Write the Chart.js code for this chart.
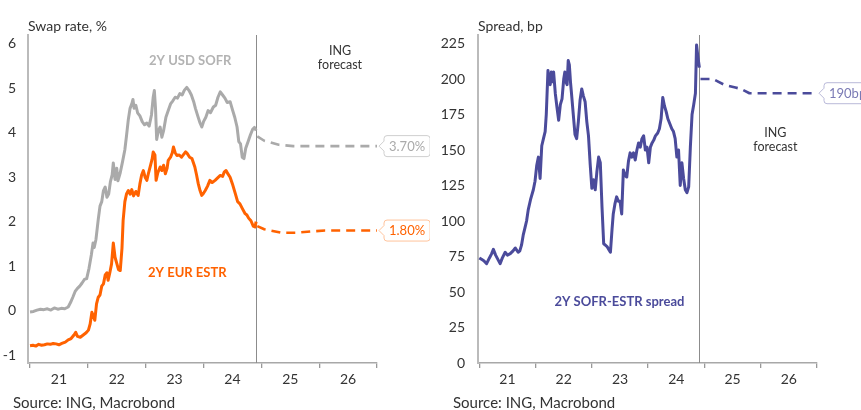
<!DOCTYPE html>
<html>
<head>
<meta charset="utf-8">
<script src="https://cdn.jsdelivr.net/npm/chart.js@4/dist/chart.umd.min.js"></script>
<style>
  html, body { margin: 0; padding: 0; background: #fff; }
  #wrap { position: relative; width: 861px; height: 410px; overflow: hidden; }
  #left { position: absolute; left: 0; top: 0; }
  #right { position: absolute; left: 430px; top: 0; }
</style>
</head>
<body>
<div id="wrap">
  <canvas id="left" width="430" height="410"></canvas>
  <canvas id="right" width="431" height="410"></canvas>
</div>
<script>
// ---- Data ----------------------------------------------------------------
const yearLabels = ['21', '22', '23', '24', '25', '26'];
const rateTicks = [-1, 0, 1, 2, 3, 4, 5, 6];
const spreadTicks = [0, 25, 50, 75, 100, 125, 150, 175, 200, 225];
const forecastStart = 2024.91;

// 2Y USD SOFR swap rate, %
const usdDates = [2021.00, 2021.06, 2021.12, 2021.18, 2021.24, 2021.30, 2021.36, 2021.42, 2021.48, 2021.54, 2021.60, 2021.66, 2021.70, 2021.74, 2021.78, 2021.82, 2021.86, 2021.90, 2021.94, 2021.98, 2022.02, 2022.06, 2022.09, 2022.11, 2022.14, 2022.18, 2022.21, 2022.24, 2022.27, 2022.30, 2022.33, 2022.36, 2022.39, 2022.42, 2022.44, 2022.47, 2022.50, 2022.52, 2022.56, 2022.60, 2022.64, 2022.67, 2022.70, 2022.73, 2022.76, 2022.78, 2022.80, 2022.83, 2022.86, 2022.90, 2022.94, 2022.98, 2023.02, 2023.06, 2023.10, 2023.13, 2023.15, 2023.17, 2023.19, 2023.22, 2023.25, 2023.28, 2023.31, 2023.35, 2023.39, 2023.43, 2023.47, 2023.51, 2023.55, 2023.59, 2023.63, 2023.67, 2023.71, 2023.75, 2023.79, 2023.83, 2023.86, 2023.90, 2023.94, 2023.97, 2024.00, 2024.04, 2024.08, 2024.12, 2024.17, 2024.21, 2024.25, 2024.29, 2024.33, 2024.37, 2024.41, 2024.46, 2024.50, 2024.54, 2024.58, 2024.61, 2024.64, 2024.67, 2024.70, 2024.73, 2024.77, 2024.81, 2024.85, 2024.88, 2024.91];
const usdSofr = [-0.03, -0.02, 0.01, 0.03, 0.02, 0.04, 0.01, 0.06, 0.03, 0.05, 0.04, 0.08, 0.18, 0.30, 0.43, 0.50, 0.55, 0.62, 0.70, 0.72, 0.95, 1.25, 1.52, 1.42, 1.60, 2.05, 2.35, 2.45, 2.70, 2.78, 2.55, 2.62, 2.90, 3.05, 3.32, 2.95, 3.20, 2.92, 3.10, 3.35, 3.62, 3.95, 4.30, 4.55, 4.65, 4.75, 4.55, 4.62, 4.45, 4.38, 4.25, 4.18, 4.22, 4.15, 4.40, 4.80, 4.95, 4.55, 3.85, 4.05, 4.13, 3.90, 4.05, 4.35, 4.50, 4.65, 4.72, 4.80, 4.78, 4.88, 4.85, 4.96, 5.02, 4.95, 4.85, 4.70, 4.55, 4.38, 4.22, 4.13, 4.25, 4.35, 4.50, 4.45, 4.58, 4.62, 4.80, 4.92, 4.85, 4.78, 4.68, 4.70, 4.52, 4.35, 4.13, 3.80, 3.75, 3.45, 3.42, 3.65, 3.80, 3.95, 4.08, 4.12, 4.05];
const usdFcDates = [2024.93, 2025.05, 2025.30, 2025.55, 2027.00];
const usdFc = [3.92, 3.82, 3.73, 3.70, 3.70];

// 2Y EUR ESTR swap rate, %
const eurDates = [2021.00, 2021.05, 2021.10, 2021.15, 2021.20, 2021.25, 2021.30, 2021.35, 2021.40, 2021.45, 2021.50, 2021.55, 2021.61, 2021.66, 2021.71, 2021.76, 2021.79, 2021.82, 2021.87, 2021.92, 2021.97, 2022.01, 2022.04, 2022.07, 2022.09, 2022.12, 2022.15, 2022.18, 2022.21, 2022.24, 2022.27, 2022.30, 2022.33, 2022.35, 2022.38, 2022.41, 2022.44, 2022.47, 2022.50, 2022.53, 2022.56, 2022.59, 2022.61, 2022.64, 2022.67, 2022.70, 2022.73, 2022.76, 2022.79, 2022.83, 2022.87, 2022.90, 2022.93, 2022.96, 2022.99, 2023.02, 2023.05, 2023.08, 2023.11, 2023.13, 2023.16, 2023.18, 2023.21, 2023.25, 2023.28, 2023.31, 2023.34, 2023.37, 2023.39, 2023.43, 2023.46, 2023.48, 2023.51, 2023.54, 2023.58, 2023.62, 2023.66, 2023.69, 2023.72, 2023.76, 2023.80, 2023.85, 2023.88, 2023.91, 2023.94, 2023.97, 2024.00, 2024.03, 2024.07, 2024.11, 2024.15, 2024.20, 2024.24, 2024.29, 2024.33, 2024.36, 2024.39, 2024.42, 2024.46, 2024.50, 2024.55, 2024.59, 2024.63, 2024.67, 2024.72, 2024.75, 2024.78, 2024.82, 2024.86, 2024.89, 2024.91];
const eurEstr = [-0.79, -0.78, -0.80, -0.76, -0.78, -0.77, -0.75, -0.76, -0.74, -0.75, -0.77, -0.74, -0.71, -0.66, -0.63, -0.55, -0.49, -0.58, -0.60, -0.55, -0.50, -0.44, -0.30, -0.04, -0.10, -0.22, 0.15, 0.30, 0.35, 0.55, 0.60, 0.80, 0.85, 0.68, 0.85, 1.05, 1.52, 1.20, 1.06, 0.92, 0.90, 1.40, 2.03, 2.45, 2.63, 2.70, 2.62, 2.72, 2.58, 2.68, 2.59, 2.85, 3.05, 3.15, 3.00, 2.93, 3.10, 3.25, 3.40, 3.57, 3.50, 2.93, 3.10, 3.23, 3.15, 3.27, 3.08, 3.20, 3.38, 3.45, 3.55, 3.68, 3.55, 3.49, 3.50, 3.45, 3.52, 3.57, 3.53, 3.45, 3.42, 3.23, 3.05, 2.85, 2.70, 2.59, 2.64, 2.70, 2.80, 2.93, 2.88, 2.93, 2.98, 3.04, 3.02, 3.12, 3.15, 3.08, 3.00, 2.85, 2.63, 2.45, 2.40, 2.30, 2.18, 2.15, 2.08, 2.02, 1.90, 1.88, 2.00];
const eurFcDates = [2024.93, 2025.05, 2025.35, 2025.60, 2025.85, 2026.10, 2027.00];
const eurFc = [1.90, 1.83, 1.75, 1.75, 1.78, 1.80, 1.80];

// 2Y SOFR-ESTR spread, bp
const spreadDates = [2021.00, 2021.04, 2021.08, 2021.13, 2021.18, 2021.22, 2021.25, 2021.29, 2021.33, 2021.37, 2021.41, 2021.46, 2021.50, 2021.55, 2021.60, 2021.64, 2021.69, 2021.72, 2021.75, 2021.78, 2021.81, 2021.84, 2021.87, 2021.91, 2021.96, 2021.99, 2022.02, 2022.05, 2022.08, 2022.11, 2022.14, 2022.17, 2022.19, 2022.22, 2022.24, 2022.26, 2022.28, 2022.30, 2022.32, 2022.35, 2022.38, 2022.41, 2022.44, 2022.47, 2022.50, 2022.52, 2022.54, 2022.56, 2022.58, 2022.60, 2022.62, 2022.64, 2022.67, 2022.70, 2022.73, 2022.76, 2022.79, 2022.82, 2022.85, 2022.88, 2022.91, 2022.94, 2022.97, 2023.00, 2023.03, 2023.06, 2023.09, 2023.12, 2023.15, 2023.18, 2023.21, 2023.24, 2023.27, 2023.30, 2023.33, 2023.36, 2023.38, 2023.41, 2023.44, 2023.47, 2023.50, 2023.53, 2023.56, 2023.59, 2023.62, 2023.65, 2023.68, 2023.71, 2023.74, 2023.77, 2023.80, 2023.83, 2023.86, 2023.89, 2023.92, 2023.95, 2023.98, 2024.01, 2024.04, 2024.07, 2024.10, 2024.13, 2024.17, 2024.20, 2024.23, 2024.26, 2024.29, 2024.32, 2024.35, 2024.38, 2024.42, 2024.45, 2024.48, 2024.51, 2024.54, 2024.57, 2024.60, 2024.63, 2024.66, 2024.69, 2024.72, 2024.75, 2024.78, 2024.81, 2024.84, 2024.86, 2024.88, 2024.91];
const spread = [74, 73, 72, 70, 74, 77, 80, 76, 73, 70, 74, 78, 76, 77, 79, 81, 78, 79, 83, 90, 95, 100, 108, 115, 122, 128, 139, 145, 130, 153, 158, 163, 175, 206, 198, 196, 205, 198, 205, 190, 180, 171, 182, 186, 200, 205, 198, 196, 213, 210, 198, 189, 175, 161, 158, 170, 185, 193, 188, 184, 170, 160, 140, 123, 129, 122, 135, 145, 141, 110, 84, 83, 82, 80, 78, 95, 105, 112, 117, 114, 114, 105, 136, 132, 131, 142, 148, 145, 148, 143, 150, 155, 152, 158, 160, 150, 152, 141, 152, 155, 157, 160, 162, 165, 172, 187, 181, 177, 172, 169, 165, 163, 158, 145, 150, 125, 141, 130, 122, 120, 124, 152, 175, 182, 190, 224, 217, 208];
const spreadFcDates = [2024.93, 2025.15, 2025.35, 2025.55, 2025.65, 2025.80, 2027.00];
const spreadFc = [200, 200, 196, 194, 193, 190, 190];

// ---- Styling -------------------------------------------------------------
const FONT = 'Lato, "Open Sans", sans-serif';
const TEXT = '#333333';
const GREY = '#aaaaaa';
const ORANGE = '#ff6200';
const PURPLE = '#4b4b9b';

const zip = (xs, ys) => xs.map((x, i) => ({ x, y: ys[i] }));

function lineSet(xs, ys, color, dashed) {
  return {
    data: zip(xs, ys),
    borderColor: color,
    borderWidth: dashed ? 2.6 : 3,
    borderDash: dashed ? [9, 6] : [],
    borderJoinStyle: 'round',
    pointRadius: 0,
    tension: 0,
    fill: false
  };
}

function xScale(min) {
  const tickVals = [];
  for (let v = 2021; v <= 2027.001; v += 0.5) tickVals.push(Math.round(v * 2) / 2);
  return {
    type: 'linear', min: min, max: 2027,
    afterBuildTicks: s => { s.ticks = tickVals.map(v => ({ value: v })); },
    afterFit: s => { s.height = 47; },
    ticks: {
      autoSkip: false, maxRotation: 0, padding: 3, color: TEXT,
      font: { family: FONT, size: 14 },
      callback: v => (v % 1 === 0.5) ? yearLabels[Math.floor(v) - 2021] : ''
    },
    grid: {
      display: true, drawOnChartArea: false, tickLength: 5, lineWidth: 1.3,
      color: c => (c.tick && c.tick.value % 1 === 0) ? '#999999' : 'rgba(0,0,0,0)'
    },
    border: { display: true, color: '#a8a8a8', width: 1.5 }
  };
}

function yScale(min, max, ticks, width, pad) {
  return {
    type: 'linear', min: min, max: max,
    afterBuildTicks: s => { s.ticks = ticks.map(v => ({ value: v })); },
    afterFit: s => { s.width = width; },
    ticks: { padding: pad, color: TEXT, font: { family: FONT, size: 14 } },
    grid: { display: false },
    border: { display: true, color: '#bbbbbb', width: 2 }
  };
}

function drawCallout(ctx, tipX, y, text, textColor, borderColor) {
  ctx.save();
  ctx.font = '13px ' + FONT;
  const w = ctx.measureText(text).width + 10;
  const h = 21, r = 3, x0 = tipX + 5, y0 = y - h / 2, x1 = x0 + w, y1 = y0 + h;
  ctx.beginPath();
  ctx.moveTo(x0 + r, y0);
  ctx.lineTo(x1 - r, y0);
  ctx.arcTo(x1, y0, x1, y0 + r, r);
  ctx.lineTo(x1, y1 - r);
  ctx.arcTo(x1, y1, x1 - r, y1, r);
  ctx.lineTo(x0 + r, y1);
  ctx.arcTo(x0, y1, x0, y1 - r, r);
  ctx.lineTo(x0, y + 5);
  ctx.lineTo(tipX, y);
  ctx.lineTo(x0, y - 5);
  ctx.lineTo(x0, y0 + r);
  ctx.arcTo(x0, y0, x0 + r, y0, r);
  ctx.closePath();
  ctx.fillStyle = '#ffffff';
  ctx.fill();
  ctx.lineWidth = 1;
  ctx.strokeStyle = borderColor;
  ctx.stroke();
  ctx.fillStyle = textColor;
  ctx.textAlign = 'left';
  ctx.textBaseline = 'middle';
  ctx.fillText(text, x0 + 5, y + 0.5);
  ctx.restore();
}

function textAt(ctx, text, x, y, color, font, align) {
  ctx.save();
  ctx.font = font;
  ctx.fillStyle = color;
  ctx.textAlign = align || 'center';
  ctx.textBaseline = 'middle';
  ctx.fillText(text, x, y);
  ctx.restore();
}

// Forecast divider under the lines, labels and callouts on top
function decorations(cfg) {
  return {
    id: 'decorations',
    beforeDatasetsDraw(chart) {
      const { ctx, chartArea, scales } = chart;
      const x = Math.round(scales.x.getPixelForValue(forecastStart)) + 0.5;
      ctx.save();
      ctx.strokeStyle = '#8c8c8c';
      ctx.lineWidth = 1;
      ctx.beginPath();
      ctx.moveTo(x, chartArea.top);
      ctx.lineTo(x, chartArea.bottom);
      ctx.stroke();
      ctx.restore();
    },
    afterDatasetsDraw(chart) {
      const { ctx, scales } = chart;
      const sx = scales.x, sy = scales.y;
      textAt(ctx, cfg.title, cfg.titleX, 26, TEXT, '14px ' + FONT, 'left');
      textAt(ctx, 'Source: ING, Macrobond', cfg.sourceX, 403, TEXT, '15px ' + FONT, 'left');
      cfg.notes.forEach(n => {
        textAt(ctx, n.text, sx.getPixelForValue(n.x), sy.getPixelForValue(n.y), n.color, n.font);
      });
      cfg.callouts.forEach(c => {
        const xs = c.dates, ys = c.values, i = xs.length - 1;
        const px = sx.getPixelForValue(xs[i]) + 2;
        const py = sy.getPixelForValue(ys[i]);
        drawCallout(ctx, px, py, c.format(ys[i]), c.textColor, c.borderColor);
      });
    }
  };
}

const BOLD = 'bold 13px ' + FONT;
const SMALL = '12.5px ' + FONT;

// ---- Left panel: swap rates ----------------------------------------------
new Chart(document.getElementById('left'), {
  type: 'line',
  data: {
    datasets: [
      lineSet(usdDates, usdSofr, GREY, false),
      lineSet(usdFcDates, usdFc, GREY, true),
      lineSet(eurDates, eurEstr, ORANGE, false),
      lineSet(eurFcDates, eurFc, ORANGE, true)
    ]
  },
  options: {
    responsive: false, animation: false, devicePixelRatio: 1,
    layout: { padding: { left: 0, right: 53, top: 35, bottom: 0 } },
    plugins: { legend: { display: false }, tooltip: { enabled: false } },
    scales: {
      x: xScale(2020.965),
      y: yScale(-1.18, 6.2, rateTicks, 28, 4)
    }
  },
  plugins: [decorations({
    title: 'Swap rate, %', titleX: 28, sourceX: 13,
    notes: [
      { text: '2Y USD SOFR', x: 2023.77, y: 5.61, color: '#b3b3b3', font: BOLD },
      { text: '2Y EUR ESTR', x: 2023.72, y: 0.86, color: ORANGE, font: BOLD },
      { text: 'ING', x: 2026.36, y: 5.85, color: TEXT, font: SMALL },
      { text: 'forecast', x: 2026.36, y: 5.53, color: TEXT, font: SMALL }
    ],
    callouts: [
      { dates: usdFcDates, values: usdFc, format: v => v.toFixed(2) + '%', textColor: GREY, borderColor: '#cfcfcf' },
      { dates: eurFcDates, values: eurFc, format: v => v.toFixed(2) + '%', textColor: ORANGE, borderColor: '#ffc39c' }
    ]
  })]
});

// ---- Right panel: spread -------------------------------------------------
new Chart(document.getElementById('right'), {
  type: 'line',
  data: {
    datasets: [
      lineSet(spreadDates, spread, PURPLE, false),
      lineSet(spreadFcDates, spreadFc, PURPLE, true)
    ]
  },
  options: {
    responsive: false, animation: false, devicePixelRatio: 1,
    layout: { padding: { left: 0, right: 44, top: 35, bottom: 0 } },
    plugins: { legend: { display: false }, tooltip: { enabled: false } },
    scales: {
      x: xScale(2020.977),
      y: yScale(0, 231, spreadTicks, 48, 5)
    }
  },
  plugins: [decorations({
    title: 'Spread, bp', titleX: 48, sourceX: 23,
    notes: [
      { text: '2Y SOFR-ESTR spread', x: 2023.49, y: 43, color: PURPLE, font: BOLD },
      { text: 'ING', x: 2026.26, y: 162, color: TEXT, font: SMALL },
      { text: 'forecast', x: 2026.26, y: 152, color: TEXT, font: SMALL }
    ],
    callouts: [
      { dates: spreadFcDates, values: spreadFc, format: v => v.toFixed(0) + 'bp', textColor: '#7a7ab5', borderColor: '#b9b9d9' }
    ]
  })]
});
</script>
</body>
</html>
